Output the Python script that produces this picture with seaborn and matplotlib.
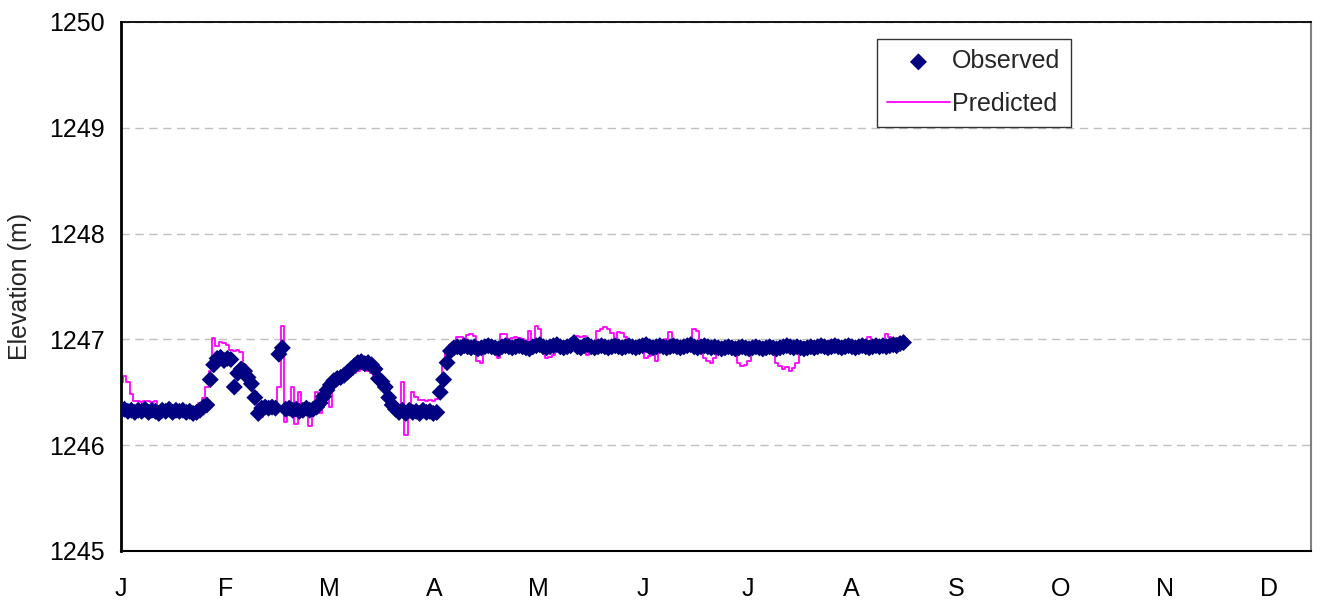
import numpy as np
import pandas as pd
import matplotlib
matplotlib.use("Agg")
import matplotlib.pyplot as plt
import seaborn as sns

# daily reservoir elevation (m), day 0 = 1 January
observed = [
    1246.33, 1246.34, 1246.32, 1246.33, 1246.31, 1246.33, 1246.32, 1246.34, 1246.31, 1246.33,
    1246.32, 1246.30, 1246.33, 1246.32, 1246.34, 1246.31, 1246.33, 1246.32, 1246.33, 1246.31,
    1246.32, 1246.30, 1246.31, 1246.33, 1246.36, 1246.38, 1246.62, 1246.76, 1246.82, 1246.83,
    1246.80, 1246.82, 1246.81, 1246.55, 1246.68, 1246.72, 1246.70, 1246.64, 1246.58, 1246.45,
    1246.30, 1246.35, 1246.36, 1246.35, 1246.36, 1246.35, 1246.86, 1246.92, 1246.34, 1246.35,
    1246.33, 1246.34, 1246.32, 1246.33, 1246.35, 1246.33, 1246.34, 1246.36, 1246.40, 1246.46,
    1246.52, 1246.57, 1246.61, 1246.63, 1246.64, 1246.66, 1246.69, 1246.72, 1246.75, 1246.78,
    1246.79, 1246.77, 1246.78, 1246.76, 1246.72, 1246.63, 1246.60, 1246.55, 1246.45, 1246.38,
    1246.34, 1246.31, 1246.33, 1246.30, 1246.33, 1246.31, 1246.32, 1246.30, 1246.33, 1246.31,
    1246.32, 1246.30, 1246.31, 1246.50, 1246.62, 1246.78, 1246.89, 1246.92, 1246.93, 1246.92,
    1246.94, 1246.93, 1246.92, 1246.93, 1246.91, 1246.92, 1246.93, 1246.94, 1246.93, 1246.92,
    1246.91, 1246.93, 1246.94, 1246.93, 1246.92, 1246.93, 1246.94, 1246.93, 1246.92, 1246.91,
    1246.93, 1246.94, 1246.95, 1246.93, 1246.92, 1246.93, 1246.94, 1246.95, 1246.93, 1246.92,
    1246.93, 1246.94, 1246.97, 1246.93, 1246.92, 1246.94, 1246.95, 1246.93, 1246.92, 1246.93,
    1246.94, 1246.93, 1246.92, 1246.93, 1246.94, 1246.93, 1246.92, 1246.93, 1246.94, 1246.93,
    1246.92, 1246.93, 1246.94, 1246.95, 1246.93, 1246.92, 1246.93, 1246.94, 1246.93, 1246.92,
    1246.93, 1246.94, 1246.93, 1246.92, 1246.93, 1246.94, 1246.95, 1246.93, 1246.92, 1246.93,
    1246.94, 1246.93, 1246.92, 1246.93, 1246.92, 1246.91, 1246.92, 1246.93, 1246.92, 1246.91,
    1246.92, 1246.93, 1246.92, 1246.91, 1246.92, 1246.93, 1246.92, 1246.91, 1246.92, 1246.93,
    1246.92, 1246.91, 1246.92, 1246.93, 1246.94, 1246.93, 1246.92, 1246.93, 1246.92, 1246.91,
    1246.92, 1246.93, 1246.92, 1246.93, 1246.94, 1246.93, 1246.92, 1246.93, 1246.94, 1246.93,
    1246.92, 1246.93, 1246.94, 1246.93, 1246.92, 1246.93, 1246.94, 1246.93, 1246.92, 1246.93,
    1246.94, 1246.93, 1246.94, 1246.93, 1246.94, 1246.95, 1246.94, 1246.96, 1246.97,
]

predicted = [
    1246.60, 1246.65, 1246.60, 1246.48, 1246.42, 1246.42, 1246.41, 1246.42, 1246.42, 1246.41,
    1246.42, 1246.33, 1246.32, 1246.30, 1246.33, 1246.31, 1246.27, 1246.32, 1246.30, 1246.33,
    1246.31, 1246.33, 1246.34, 1246.40, 1246.45, 1246.55, 1246.70, 1247.01, 1246.94, 1246.98,
    1246.97, 1246.95, 1246.90, 1246.89, 1246.90, 1246.88, 1246.76, 1246.70, 1246.62, 1246.50,
    1246.30, 1246.27, 1246.33, 1246.35, 1246.34, 1246.40, 1246.55, 1247.13, 1246.22, 1246.30,
    1246.55, 1246.20, 1246.50, 1246.38, 1246.30, 1246.18, 1246.32, 1246.50, 1246.30, 1246.38,
    1246.45, 1246.36, 1246.55, 1246.58, 1246.60, 1246.62, 1246.64, 1246.66, 1246.68, 1246.70,
    1246.72, 1246.71, 1246.70, 1246.68, 1246.66, 1246.60, 1246.55, 1246.50, 1246.45, 1246.38,
    1246.32, 1246.30, 1246.60, 1246.10, 1246.28, 1246.50, 1246.46, 1246.43, 1246.43, 1246.42,
    1246.43, 1246.42, 1246.44, 1246.55, 1246.75, 1246.88, 1246.95, 1246.98, 1247.02, 1247.02,
    1246.95, 1247.04, 1247.05, 1247.03, 1246.80, 1246.78, 1246.88, 1246.93, 1246.92, 1246.90,
    1246.82, 1247.05, 1247.05, 1247.00, 1247.01, 1247.02, 1247.01, 1247.00, 1246.92, 1247.08,
    1246.95, 1247.13, 1247.10, 1246.95, 1246.82, 1246.83, 1246.85, 1246.90, 1246.92, 1246.94,
    1246.93, 1246.95, 1246.97, 1247.03, 1247.02, 1247.03, 1246.85, 1246.93, 1246.95, 1247.08,
    1247.10, 1247.12, 1247.10, 1247.06, 1246.97, 1247.07, 1247.06, 1247.02, 1246.96, 1246.95,
    1246.97, 1246.96, 1246.93, 1246.82, 1246.84, 1246.92, 1246.80, 1246.90, 1246.95, 1247.00,
    1247.07, 1246.98, 1246.97, 1246.96, 1246.94, 1246.95, 1246.97, 1247.10, 1247.08, 1246.95,
    1246.82, 1246.80, 1246.78, 1246.82, 1246.92, 1246.94, 1246.93, 1246.94, 1246.93, 1246.90,
    1246.78, 1246.75, 1246.76, 1246.80, 1246.92, 1246.94, 1246.93, 1246.94, 1246.93, 1246.92,
    1246.88, 1246.78, 1246.75, 1246.72, 1246.74, 1246.70, 1246.73, 1246.78, 1246.88, 1246.93,
    1246.94, 1246.93, 1246.94, 1246.95, 1246.94, 1246.95, 1246.98, 1246.99, 1246.97, 1246.94,
    1246.93, 1246.94, 1246.93, 1246.94, 1246.93, 1246.94, 1246.95, 1246.97, 1247.02, 1246.96,
    1246.94, 1246.95, 1246.97, 1247.05, 1247.02, 1247.00, 1247.01, 1247.00, 1246.98,
]

month_labels = ["J", "F", "M", "A", "M", "J", "J", "A", "S", "O", "N", "D"]
y_ticks = [1245, 1246, 1247, 1248, 1249, 1250]

df = pd.DataFrame({
    "Day": np.arange(len(observed)),
    "Observed": observed,
    "Predicted": predicted,
})

sns.set_style("white")
plt.rcParams["font.family"] = ["Liberation Sans", "DejaVu Sans"]

fig = plt.figure(figsize=(13.2, 6.06), dpi=100)
ax = fig.add_axes([0.0917, 0.0908, 0.9015, 0.8729])

sns.lineplot(data=df, x="Day", y="Predicted", ax=ax, color="#FF00FF",
             linewidth=1.3, drawstyle="steps-mid", label="Predicted", zorder=2)
sns.scatterplot(data=df, x="Day", y="Observed", ax=ax, color="#000080",
                marker="D", s=75, edgecolor="none", label="Observed", zorder=3)

month_len = 365 / 12
ax.set_xlim(0, 11.4 * month_len)
ax.set_xticks(np.arange(12) * month_len)
ax.set_xticklabels(month_labels)
ax.set_ylim(1245, 1250)
ax.set_yticks(y_ticks)
ax.set_xlabel("")
ax.set_ylabel("Elevation (m)", fontsize=18, labelpad=12)

ax.grid(axis="y", color="#C0C0C0", linestyle=(0, (6, 4)), linewidth=1)
ax.tick_params(axis="both", labelsize=18, colors="black")
ax.tick_params(axis="y", direction="out", length=6, width=1, color="#808080", pad=6)
ax.tick_params(axis="x", direction="out", length=7, width=1, color="#808080", pad=12)

for side in ["left", "bottom", "top"]:
    ax.spines[side].set_color("black")
ax.spines["left"].set_linewidth(2)
ax.spines["bottom"].set_linewidth(1.5)
ax.spines["top"].set_linewidth(1.3)
ax.spines["right"].set_color("#808080")
ax.spines["right"].set_linewidth(1.5)

handles, labels = ax.get_legend_handles_labels()
order = [labels.index("Observed"), labels.index("Predicted")]
leg = ax.legend([handles[i] for i in order], [labels[i] for i in order],
                loc="upper left", bbox_to_anchor=(0.635, 0.968), borderaxespad=0,
                fontsize=18, frameon=True, fancybox=False, handlelength=2.5,
                handletextpad=0.1, labelspacing=0.75, borderpad=0.42)
leg.get_frame().set_edgecolor("black")
leg.get_frame().set_linewidth(1)

fig.savefig("out.png", dpi=100)
plt.close(fig)
